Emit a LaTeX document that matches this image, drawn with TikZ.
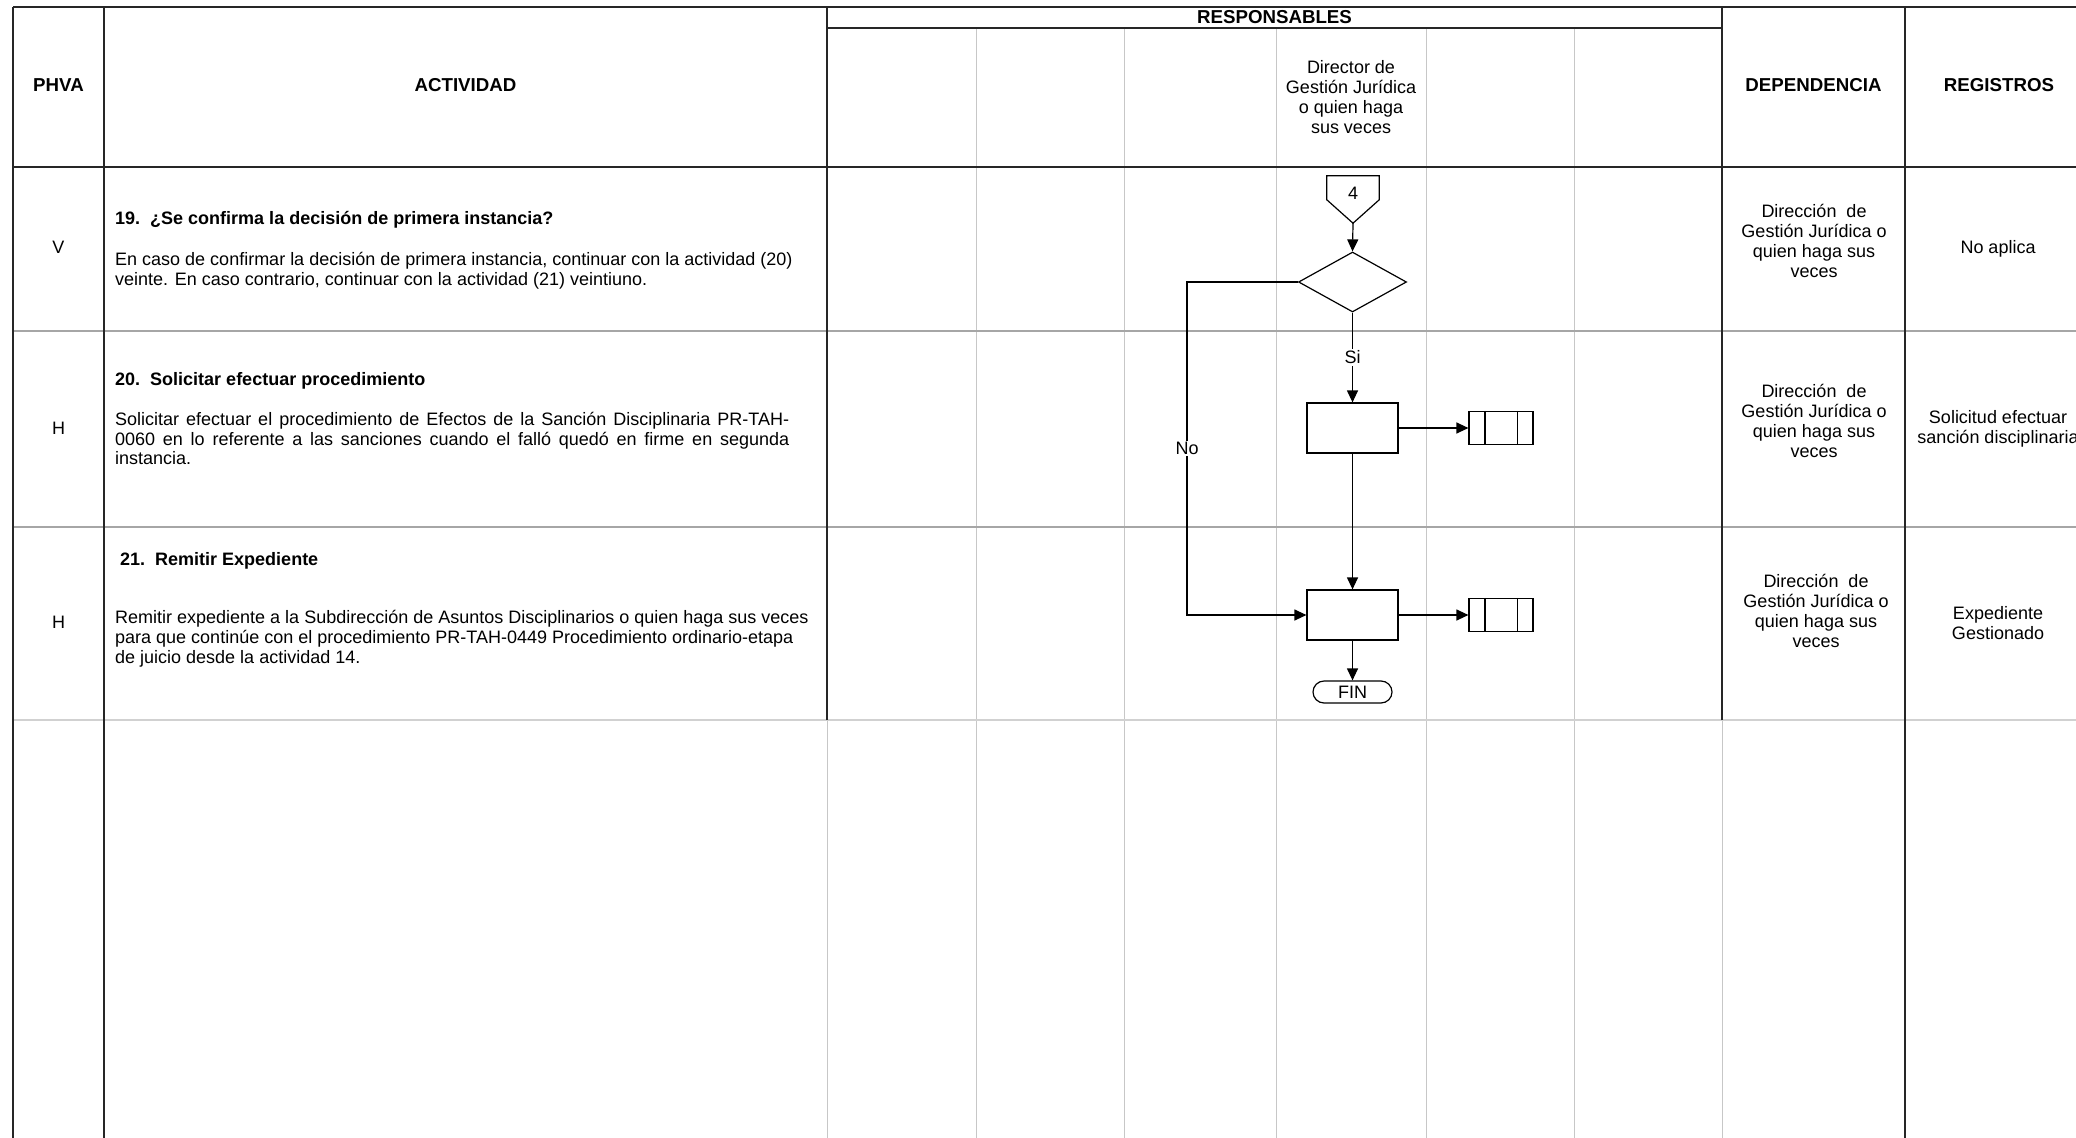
\documentclass[tikz,border=0pt]{standalone}
\usepackage{fontspec}
\setmainfont{Liberation Sans}
\usetikzlibrary{arrows.meta,shapes.geometric}
\begin{document}
\begin{tikzpicture}[x=1pt,y=-1pt,
  txt/.style={font=\fontsize{18}{20}\selectfont, inner sep=0pt},
  btxt/.style={font=\fontsize{18}{20}\selectfont\bfseries, inner sep=0pt},
  htxt/.style={font=\fontsize{18.7}{20}\selectfont\bfseries, inner sep=0pt},
  dark/.style={line width=1.4pt, black!85},
  rowline/.style={line width=1.2pt, black!35},
  colline/.style={line width=1pt, black!22},
  flow/.style={draw, line width=1.2pt, inner sep=0pt},
  arr/.style={line width=1.2pt, -{Triangle[length=12pt,width=11pt]}},
  lbl/.style={font=\fontsize{18}{20}\selectfont, fill=white, inner sep=1.5pt}
]
\useasboundingbox (0,0) rectangle (2076,1137);
\fill[white] (0,0) rectangle (2076,1137);

% ---- table grid ----
\foreach \x in {976,1124,1276,1426,1574} \draw[colline] (\x,28) -- (\x,1140);
\draw[colline] (827,720) -- (827,1140);
\draw[colline] (1722,720) -- (1722,1140);
\draw[rowline] (13,331) -- (2100,331);
\draw[rowline] (13,527) -- (2100,527);
\draw[line width=2.5pt, black!18] (13,720) -- (2100,720);
\draw[dark] (13,7) -- (2100,7);
\draw[dark] (827,28) -- (1722,28);
\draw[dark] (13,167) -- (2100,167);
\draw[dark] (13,7) -- (13,1140);
\draw[dark] (104,7) -- (104,1140);
\draw[dark] (827,7) -- (827,720);
\draw[dark] (1722,7) -- (1722,720);
\draw[dark] (1905,7) -- (1905,1140);

% ---- header ----
\node[htxt] (hphva) at (58.5,85) {PHVA};
\node[htxt] (hact) at (465.5,85) {ACTIVIDAD};
\node[htxt] (hresp) at (1274.5,17.5) {RESPONSABLES};
\node[txt, align=center] (hdir) at (1351,97) {Director de\\Gestión Jurídica\\o quien haga\\sus veces};
\node[htxt] (hdep) at (1813.5,85) {DEPENDENCIA};
\node[htxt] (hreg) at (1999,85) {REGISTROS};

% ---- PHVA ----
\node[txt] (p1) at (58.5,247) {V};
\node[txt] (p2) at (58.5,428) {H};
\node[txt] (p3) at (58.5,622) {H};

% ---- activities ----
\node[btxt, anchor=base west] (a1t) at (115,224) {19.\ \ ¿Se confirma la decisión de primera instancia?};
\node[txt, anchor=base west] (a1b1) at (115,265.5) {En caso de confirmar la decisión de primera instancia, continuar con la actividad (20)};
\node[txt, anchor=base west] (a1b2) at (115,285) {veinte. En caso contrario, continuar con la actividad (21) veintiuno.};

\node[btxt, anchor=base west] (a2t) at (115,385) {20.\ \ Solicitar efectuar procedimiento};
\node[txt, anchor=base west] (a2b1) at (115,425.5) {\makebox[674pt][s]{Solicitar efectuar el procedimiento de Efectos de la Sanción Disciplinaria PR-TAH-}};
\node[txt, anchor=base west] (a2b2) at (115,445) {\makebox[674pt][s]{0060 en lo referente a las sanciones cuando el falló quedó en firme en segunda}};
\node[txt, anchor=base west] (a2b3) at (115,464.5) {instancia.};

\node[btxt, anchor=base west] (a3t) at (120,565) {21.\ \ Remitir Expediente};
\node[txt, anchor=base west] (a3b1) at (115,623.5) {Remitir expediente a la Subdirección de Asuntos Disciplinarios o quien haga sus veces};
\node[txt, anchor=base west] (a3b2) at (115,643.5) {para que continúe con el procedimiento PR-TAH-0449 Procedimiento ordinario-etapa};
\node[txt, anchor=base west] (a3b3) at (115,663.5) {de juicio desde la actividad 14.};

% ---- dependencia ----
\node[txt, align=center] (d1) at (1814,241) {Dirección\ \ de\\Gestión Jurídica o\\quien haga sus\\veces};
\node[txt, align=center] (d2) at (1814,421) {Dirección\ \ de\\Gestión Jurídica o\\quien haga sus\\veces};
\node[txt, align=center] (d3) at (1816,611) {Dirección\ \ de\\Gestión Jurídica o\\quien haga sus\\veces};

% ---- registros ----
\node[txt] (g1) at (1998,249) {No aplica};
\node[txt, align=center] (g2) at (1998,429) {Solicitud efectuar\\sanción disciplinaria};
\node[txt, align=center] (g3) at (1998,623) {Expediente\\Gestionado};

% ---- flowchart ----
\node[minimum width=52pt, minimum height=47pt, inner sep=0pt] (c4) at (1353,199.5) {};
\draw[line width=1.2pt] (c4.north west) -- (c4.north east) -- ([yshift=-24pt]c4.north east) -- (c4.south) -- ([yshift=-24pt]c4.north west) -- cycle;
\node[txt] (c4t) at (1353,193) {4};
\node[flow, diamond, minimum width=108pt, minimum height=60pt] (dia) at (1352.5,282) {};
\node[flow, rectangle, minimum width=91pt, minimum height=50pt] (b1) at (1352.5,428) {};
\node[flow, rectangle, minimum width=64pt, minimum height=33pt] (rc1) at (1501,428) {};
\draw[line width=1.2pt] ([xshift=16.5pt]rc1.north west) -- ([xshift=16.5pt]rc1.south west);
\draw[line width=1.2pt] ([xshift=-16pt]rc1.north east) -- ([xshift=-16pt]rc1.south east);
\node[flow, rectangle, minimum width=91pt, minimum height=50pt] (b2) at (1352.5,615) {};
\node[flow, rectangle, minimum width=64pt, minimum height=33pt] (rc2) at (1501,615) {};
\draw[line width=1.2pt] ([xshift=16.5pt]rc2.north west) -- ([xshift=16.5pt]rc2.south west);
\draw[line width=1.2pt] ([xshift=-16pt]rc2.north east) -- ([xshift=-16pt]rc2.south east);
\node[flow, txt, rounded corners=11pt, minimum width=79pt, minimum height=22pt] (fin) at (1352.5,692) {FIN};

\coordinate (nc) at (1187,282);
\draw[arr] (c4.south) -- (dia.north);
\draw[arr] (dia.south) -- node[lbl] (lsi) {Si} (b1.north);
\draw[arr] (b1.east) -- (rc1.west);
\draw[arr] (b1.south) -- (b2.north);
\draw[arr] (b2.east) -- (rc2.west);
\draw[arr] (b2.south) -- (fin.north);
\draw[arr] (dia.west) -- (nc) -- node[lbl] (lno) {No} (nc |- b2.west) -- (b2.west);
\end{tikzpicture}
\end{document}
